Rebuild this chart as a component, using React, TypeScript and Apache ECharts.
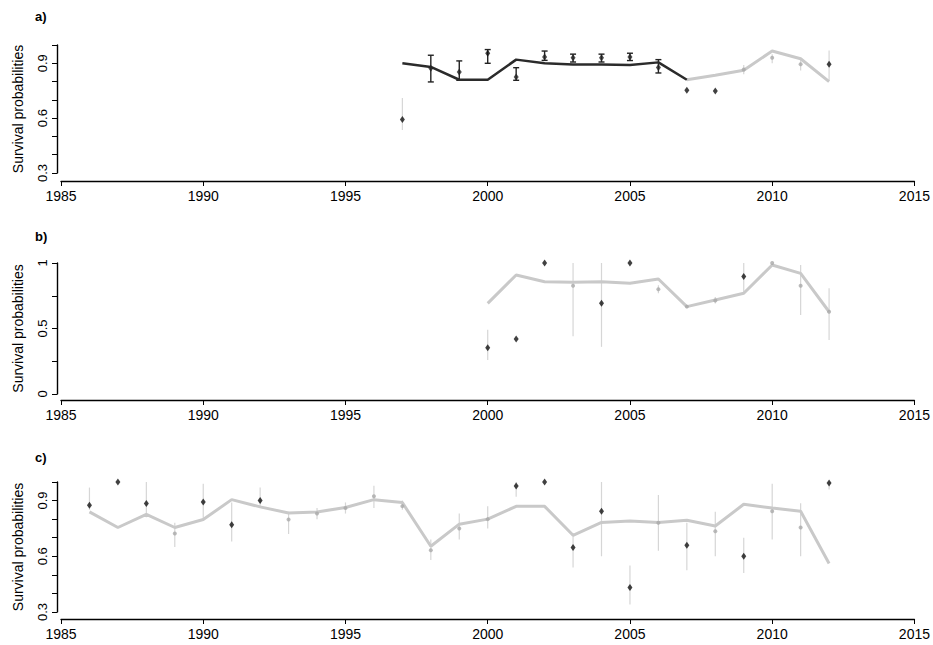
import React, { useEffect, useRef } from "react";
import * as echarts from "echarts";

// ---------- data ----------
const xTicks = [1985, 1990, 1995, 2000, 2005, 2010, 2015];
const panelLabels = ["a)", "b)", "c)"];
const yTitle = "Survival probabilities";
const yLabelsA = ["0.3", "0.6", "0.9"];
const yLabelsB = ["0", "0.5", "1"];
const yLabelsC = ["0.3", "0.6", "0.9"];

// Panel a
const darkLineYearsA = [1997, 1998, 1999, 2000, 2001, 2002, 2003, 2004, 2005, 2006, 2007];
const darkLineValsA = [0.9, 0.88, 0.81, 0.81, 0.92, 0.9, 0.893, 0.893, 0.89, 0.905, 0.81];
const greyLineYearsA = [2007, 2008, 2009, 2010, 2011, 2012];
const greyLineValsA = [0.81, 0.835, 0.862, 0.967, 0.925, 0.8];
const blackPtsA = [[1997, 0.593], [2000, 0.955], [2007, 0.753], [2008, 0.749], [2012, 0.895]];
const darkPtsA = [[1998, 0.873], [1999, 0.853], [2001, 0.825], [2002, 0.934], [2003, 0.93], [2004, 0.93], [2005, 0.935], [2006, 0.877]];
const darkBarsA = [[1998, 0.798, 0.944], [1999, 0.807, 0.913], [2000, 0.9, 0.975], [2001, 0.807, 0.876], [2002, 0.916, 0.967], [2003, 0.907, 0.95], [2004, 0.907, 0.95], [2005, 0.915, 0.955], [2006, 0.847, 0.92]];
const greyPtsA = [[2009, 0.866], [2010, 0.93], [2011, 0.895]];
const greyBarsA = [[1997, 0.535, 0.71], [2009, 0.84, 0.89], [2010, 0.9, 0.95], [2011, 0.86, 0.92], [2012, 0.807, 0.97]];

// Panel b
const greyLineYearsB = [2000, 2001, 2002, 2003, 2004, 2005, 2006, 2007, 2008, 2009, 2010, 2011, 2012];
const greyLineValsB = [0.692, 0.908, 0.857, 0.853, 0.857, 0.845, 0.878, 0.667, 0.718, 0.769, 0.985, 0.921, 0.628];
const blackPtsB = [[2000, 0.353], [2001, 0.42], [2002, 1.0], [2004, 0.692], [2005, 1.0], [2009, 0.896]];
const greyPtsB = [[2003, 0.827], [2006, 0.8], [2007, 0.667], [2008, 0.713], [2010, 1.0], [2011, 0.827], [2012, 0.628]];
const greyBarsB = [[2000, 0.26, 0.49], [2003, 0.44, 1.0], [2004, 0.36, 1.0], [2006, 0.77, 0.83], [2008, 0.69, 0.74], [2009, 0.77, 1.0], [2011, 0.603, 0.985], [2012, 0.412, 0.807]];

// Panel c
const greyLineYearsC = [1986, 1987, 1988, 1989, 1990, 1991, 1992, 1993, 1994, 1995, 1996, 1997, 1998, 1999, 2000, 2001, 2002, 2003, 2004, 2005, 2006, 2007, 2008, 2009, 2010, 2011, 2012];
const greyLineValsC = [0.839, 0.755, 0.826, 0.755, 0.798, 0.905, 0.866, 0.833, 0.839, 0.863, 0.905, 0.889, 0.654, 0.773, 0.8, 0.869, 0.869, 0.713, 0.782, 0.79, 0.782, 0.794, 0.763, 0.88, 0.86, 0.842, 0.561];
const blackPtsC = [[1986, 0.875], [1987, 1.0], [1988, 0.884], [1990, 0.892], [1991, 0.77], [1992, 0.9], [2001, 0.978], [2002, 1.0], [2003, 0.647], [2004, 0.842], [2005, 0.432], [2007, 0.66], [2009, 0.6], [2012, 0.995]];
const greyPtsC = [[1989, 0.723], [1993, 0.798], [1994, 0.83], [1995, 0.86], [1996, 0.923], [1997, 0.87], [1998, 0.633], [1999, 0.75], [2000, 0.8], [2006, 0.78], [2008, 0.735], [2010, 0.842], [2011, 0.755]];
const greyBarsC = [[1986, 0.85, 0.97], [1988, 0.81, 1.0], [1989, 0.65, 0.78], [1990, 0.8, 0.99], [1991, 0.68, 0.89], [1992, 0.87, 0.97], [1993, 0.72, 0.84], [1994, 0.8, 0.86], [1995, 0.83, 0.89], [1996, 0.86, 0.98], [1997, 0.85, 0.9], [1998, 0.58, 0.69], [1999, 0.69, 0.83], [2000, 0.75, 0.87], [2001, 0.92, 1.0], [2003, 0.54, 0.71], [2004, 0.6, 1.0], [2005, 0.34, 0.55], [2006, 0.63, 0.93], [2007, 0.525, 0.78], [2008, 0.6, 0.84], [2009, 0.51, 0.7], [2010, 0.69, 0.99], [2011, 0.6, 0.885], [2012, 0.96, 1.0]];

const FONT = "'Liberation Sans', Arial, Helvetica, sans-serif";
const GREY_LINE = "#c9c9c9";
const GREY_BAR = "#d6d6d6";
const GREY_PT = "#a9a9a9";
const BLACK = "#111111";

function zip(xs: number[], ys: number[]) {
  return xs.map((x, i) => [x, ys[i]]);
}

function barSeries(idx: number, data: number[][], color: string, width: number, cap: boolean) {
  return {
    type: "custom",
    xAxisIndex: idx,
    yAxisIndex: idx,
    data,
    encode: { x: 0, y: [1, 2] },
    z: 1,
    renderItem: (params: any, api: any) => {
      const x = api.value(0);
      const lo = api.coord([x, api.value(1)]);
      const hi = api.coord([x, api.value(2)]);
      const style = { stroke: color, lineWidth: width };
      const children: any[] = [
        { type: "line", shape: { x1: lo[0], y1: lo[1], x2: hi[0], y2: hi[1] }, style },
      ];
      if (cap) {
        children.push({ type: "line", shape: { x1: lo[0] - 3, y1: lo[1], x2: lo[0] + 3, y2: lo[1] }, style });
        children.push({ type: "line", shape: { x1: hi[0] - 3, y1: hi[1], x2: hi[0] + 3, y2: hi[1] }, style });
      }
      return { type: "group", children };
    },
  };
}

function lineSeries(idx: number, data: number[][], color: string, width: number, z: number) {
  return {
    type: "line",
    xAxisIndex: idx,
    yAxisIndex: idx,
    data,
    symbol: "none",
    lineStyle: { color, width },
    z,
  };
}

function ptSeries(idx: number, data: number[][], color: string, symbol: string, size: any, z: number) {
  return {
    type: "scatter",
    xAxisIndex: idx,
    yAxisIndex: idx,
    data,
    symbol,
    symbolSize: size,
    itemStyle: { color },
    clip: false,
    z,
  };
}

const grids = [
  { left: 61, right: 18, top: 45, height: 128 },
  { left: 61, right: 18, top: 263, height: 131 },
  { left: 61, right: 18, top: 482, height: 130 },
];

function makeXAxis(idx: number, offset: number) {
  return {
    type: "value",
    gridIndex: idx,
    min: 1985,
    max: 2015,
    interval: 5,
    offset,
    axisLine: { show: true, onZero: false, lineStyle: { color: "#000", width: 1.4 } },
    axisTick: { show: true, inside: false, length: 5, lineStyle: { color: "#000", width: 1 } },
    splitLine: { show: false },
    axisLabel: {
      color: "#000",
      fontSize: 14,
      fontFamily: FONT,
      margin: 8,
      formatter: (v: number) => (xTicks.includes(Math.round(v)) ? String(Math.round(v)) : ""),
    },
  };
}

function makeYAxis(idx: number, min: number, max: number, interval: number, labels: string[]) {
  return {
    type: "value",
    gridIndex: idx,
    min,
    max,
    interval,
    offset: 4,
    name: yTitle,
    nameLocation: "middle",
    nameGap: 32,
    nameTextStyle: { color: "#000", fontSize: 14, fontFamily: FONT },
    axisLine: { show: true, onZero: false, lineStyle: { color: "#000", width: 1.4 } },
    axisTick: { show: true, inside: false, length: 5, lineStyle: { color: "#000", width: 1 } },
    splitLine: { show: false },
    axisLabel: {
      color: "#000",
      fontSize: 13,
      fontFamily: FONT,
      rotate: 90,
      margin: 8,
      formatter: (v: number) => {
        const s = String(Math.round(v * 100) / 100);
        return labels.includes(s) ? s : "";
      },
    },
  };
}

export default function App() {
  const ref = useRef<HTMLDivElement>(null);
  useEffect(() => {
    if (!ref.current) return;
    const chart = echarts.init(ref.current, undefined, { renderer: "svg" });
    const option: any = {
      animation: false,
      backgroundColor: "#ffffff",
      textStyle: { fontFamily: FONT },
      grid: grids,
      xAxis: [makeXAxis(0, 8), makeXAxis(1, 6), makeXAxis(2, 7)],
      yAxis: [
        makeYAxis(0, 0.3, 1.0, 0.1, yLabelsA),
        makeYAxis(1, 0, 1, 0.25, yLabelsB),
        makeYAxis(2, 0.3, 1.0, 0.1, yLabelsC),
      ],
      graphic: panelLabels.map((t, i) => ({
        type: "text",
        left: 35,
        top: [10, 230, 451][i],
        style: { text: t, fontSize: 13, fontFamily: FONT, fill: "#000", fontWeight: "bold" },
      })),
      series: [
        // panel a
        barSeries(0, greyBarsA, GREY_BAR, 1.2, false),
        lineSeries(0, zip(greyLineYearsA, greyLineValsA), GREY_LINE, 3, 2),
        lineSeries(0, zip(darkLineYearsA, darkLineValsA), "#2b2b2b", 2.5, 3),
        barSeries(0, darkBarsA, "#222", 1.4, true),
        ptSeries(0, greyPtsA, GREY_PT, "circle", 4, 4),
        ptSeries(0, darkPtsA, "#222", "diamond", [5, 7], 5),
        ptSeries(0, blackPtsA, BLACK, "diamond", [5, 7], 5),
        // panel b
        barSeries(1, greyBarsB, GREY_BAR, 1.2, false),
        lineSeries(1, zip(greyLineYearsB, greyLineValsB), GREY_LINE, 3, 2),
        ptSeries(1, greyPtsB, GREY_PT, "circle", 4, 4),
        ptSeries(1, blackPtsB, BLACK, "diamond", [5, 7], 5),
        // panel c
        barSeries(2, greyBarsC, GREY_BAR, 1.2, false),
        lineSeries(2, zip(greyLineYearsC, greyLineValsC), GREY_LINE, 3, 2),
        ptSeries(2, greyPtsC, GREY_PT, "circle", 4, 4),
        ptSeries(2, blackPtsC, BLACK, "diamond", [5, 7], 5),
      ],
    };
    chart.setOption(option);
    return () => chart.dispose();
  }, []);
  return (
    <div
      ref={ref}
      style={{ position: "fixed", left: 0, top: 0, width: 933, height: 645, background: "#fff" }}
    />
  );
}
